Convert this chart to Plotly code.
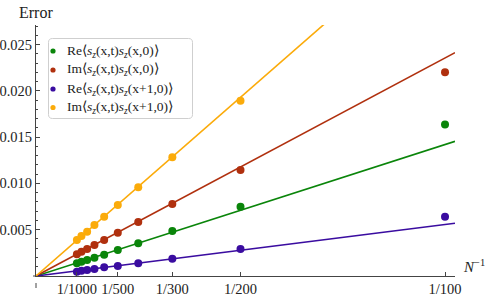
import plotly.graph_objects as go

# ---- data ----
x_tick_vals = [1/1000, 1/500, 1/300, 1/200, 1/100]
x_tick_text = ["1/1000", "1/500", "1/300", "1/200", "1/100"]
y_tick_vals = [0.005, 0.010, 0.015, 0.020, 0.025]
y_tick_text = ["0.005", "0.010", "0.015", "0.020", "0.025"]

inv_n = [1/1000, 1/900, 1/800, 1/700, 1/600, 1/500, 1/400, 1/300, 1/200, 1/100]

re_xx = [0.00137, 0.00155, 0.00173, 0.00198, 0.00230, 0.00281, 0.00353, 0.00486, 0.00749, 0.01635]
im_xx = [0.00234, 0.00262, 0.00292, 0.00335, 0.00389, 0.00468, 0.00583, 0.00778, 0.01145, 0.02200]
re_x1 = [0.00046, 0.00057, 0.00065, 0.00076, 0.00094, 0.00108, 0.00137, 0.00187, 0.00292, 0.00640]
im_x1 = [0.00389, 0.00432, 0.00478, 0.00551, 0.00640, 0.00767, 0.00958, 0.01282, 0.01893]

fit_slopes = [1.42, 2.355, 0.557, 3.86]

names = [
    "Re⟨<i>s<sub>z</sub></i>(x,t)<i>s<sub>z</sub></i>(x,0)⟩",
    "Im⟨<i>s<sub>z</sub></i>(x,t)<i>s<sub>z</sub></i>(x,0)⟩",
    "Re⟨<i>s<sub>z</sub></i>(x,t)<i>s<sub>z</sub></i>(x+1,0)⟩",
    "Im⟨<i>s<sub>z</sub></i>(x,t)<i>s<sub>z</sub></i>(x+1,0)⟩",
]
colors = ["#0a850a", "#b0300e", "#3a0ca0", "#fbab0a"]
series = [re_xx, im_xx, re_x1, im_x1]

X_MAX = 0.010244
Y_MAX = 0.02711
FONT = "Liberation Serif"
TXT = "#222"
AX = "#444"

# plot area in pixels
L, T, W, H = 36, 25, 419, 251


def px(xp):
    return (xp - L) / W


def py(yp):
    return (T + H - yp) / H


fig = go.Figure()

for slope, col in zip(fit_slopes, colors):
    fig.add_trace(go.Scatter(
        x=[0, X_MAX], y=[0, slope * X_MAX], mode="lines",
        line=dict(color=col, width=1.6), showlegend=False, hoverinfo="skip"))

for ys, col in zip(series, colors):
    fig.add_trace(go.Scatter(
        x=inv_n[:len(ys)], y=ys, mode="markers",
        marker=dict(color=col, size=8), showlegend=False, cliponaxis=False))

shapes = [
    dict(type="line", xref="paper", yref="paper", x0=px(33), x1=0, y0=0, y1=0,
         line=dict(color=AX, width=1)),
    dict(type="line", xref="paper", yref="paper", x0=0, x1=0, y0=py(283), y1=py(288),
         line=dict(color=AX, width=1)),
]

# legend box (rounded rectangle)
bx0, bx1, by0, by1, r = 48.5, 192.5, 38.5, 118.5, 4


def P(x, y):
    return f"{px(x):.5f},{py(y):.5f}"


path = (f"M {P(bx0 + r, by0)} L {P(bx1 - r, by0)} Q {P(bx1, by0)} {P(bx1, by0 + r)} "
        f"L {P(bx1, by1 - r)} Q {P(bx1, by1)} {P(bx1 - r, by1)} "
        f"L {P(bx0 + r, by1)} Q {P(bx0, by1)} {P(bx0, by1 - r)} "
        f"L {P(bx0, by0 + r)} Q {P(bx0, by0)} {P(bx0 + r, by0)} Z")
shapes.append(dict(type="path", xref="paper", yref="paper", path=path,
                   fillcolor="white", line=dict(color="#cfcfcf", width=1), layer="above"))

annotations = [
    dict(text="Error", xref="x", yref="paper", x=0, y=py(12),
         xanchor="center", yanchor="middle", showarrow=False, xshift=0,
         font=dict(family=FONT, size=16, color=TXT)),
    dict(text="<i>N</i><sup>−1</sup>", xref="paper", yref="paper",
         x=px(461), y=py(266), xanchor="left", yanchor="middle", showarrow=False,
         font=dict(family=FONT, size=15, color=TXT)),
]

row_y = [51, 70, 89, 107.5]
for name, col, ry in zip(names, colors, row_y):
    shapes.append(dict(type="circle", xref="paper", yref="paper",
                       xsizemode="pixel", ysizemode="pixel",
                       xanchor=px(53), yanchor=py(ry),
                       x0=-2.6, x1=2.6, y0=-2.6, y1=2.6,
                       fillcolor=col, line=dict(width=0), layer="above"))
    annotations.append(dict(text=name, xref="paper", yref="paper",
                            x=px(65), y=py(ry), xanchor="left", yanchor="middle",
                            showarrow=False,
                            font=dict(family=FONT, size=13.5, color=TXT)))

fig.update_layout(
    width=485, height=300,
    margin=dict(l=L, r=485 - L - W, t=T, b=300 - T - H),
    plot_bgcolor="white", paper_bgcolor="white",
    font=dict(family=FONT, size=14, color=TXT),
    showlegend=False,
    xaxis=dict(
        range=[0, X_MAX], showgrid=False, zeroline=False, automargin=False,
        showline=True, linecolor=AX, linewidth=1,
        tickvals=x_tick_vals, ticktext=x_tick_text,
        ticks="inside", ticklen=4, tickcolor=AX,
        tickfont=dict(family=FONT, size=14.5, color=TXT),
    ),
    yaxis=dict(
        range=[0, Y_MAX], showgrid=False, zeroline=False, automargin=False,
        showline=True, linecolor=AX, linewidth=1,
        tickvals=y_tick_vals, ticktext=y_tick_text,
        ticks="inside", ticklen=4, tickcolor=AX,
        minor=dict(dtick=0.001, tick0=0, ticks="inside", ticklen=2, tickcolor=AX),
        tickfont=dict(family=FONT, size=14.5, color=TXT),
    ),
    shapes=shapes,
    annotations=annotations,
)

fig.write_html(
    "out.html",
    config={"displayModeBar": False},
    post_script="document.body.style.margin='0';document.body.style.overflow='hidden';",
)
